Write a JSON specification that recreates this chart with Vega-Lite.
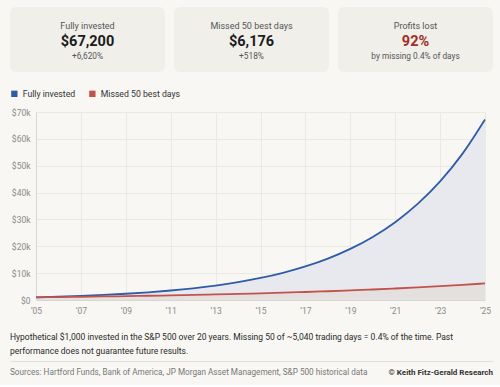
{
  "$schema": "https://vega.github.io/schema/vega-lite/v6.json",
  "background": "#f8f7f3",
  "padding": {"left": 10, "top": 7, "right": 7, "bottom": 0},
  "spacing": 17,
  "resolve": {"legend": {"color": "independent"}},
  "config": {"view": {"stroke": null}, "font": "Roboto"},
  "datasets": {
    "cards": [
      {"card": "Fully invested", "role": "label", "text": "Fully invested"},
      {"card": "Fully invested", "role": "value", "text": "$67,200"},
      {"card": "Fully invested", "role": "note", "text": "+6,620%"},
      {"card": "Missed 50 best days", "role": "label", "text": "Missed 50 best days"},
      {"card": "Missed 50 best days", "role": "value", "text": "$6,176"},
      {"card": "Missed 50 best days", "role": "note", "text": "+518%"},
      {"card": "Profits lost", "role": "label", "text": "Profits lost"},
      {"card": "Profits lost", "role": "value", "text": "92%"},
      {"card": "Profits lost", "role": "note", "text": "by missing 0.4% of days"}
    ],
    "growth": [
      {"year": 2005, "series": "Fully invested", "value": 1000},
      {"year": 2006, "series": "Fully invested", "value": 1234},
      {"year": 2007, "series": "Fully invested", "value": 1523},
      {"year": 2008, "series": "Fully invested", "value": 1880},
      {"year": 2009, "series": "Fully invested", "value": 2320},
      {"year": 2010, "series": "Fully invested", "value": 2864},
      {"year": 2011, "series": "Fully invested", "value": 3535},
      {"year": 2012, "series": "Fully invested", "value": 4362},
      {"year": 2013, "series": "Fully invested", "value": 5384},
      {"year": 2014, "series": "Fully invested", "value": 6645},
      {"year": 2015, "series": "Fully invested", "value": 8201},
      {"year": 2016, "series": "Fully invested", "value": 10122},
      {"year": 2017, "series": "Fully invested", "value": 12492},
      {"year": 2018, "series": "Fully invested", "value": 15418},
      {"year": 2019, "series": "Fully invested", "value": 19029},
      {"year": 2020, "series": "Fully invested", "value": 23485},
      {"year": 2021, "series": "Fully invested", "value": 28985},
      {"year": 2022, "series": "Fully invested", "value": 35773},
      {"year": 2023, "series": "Fully invested", "value": 44151},
      {"year": 2024, "series": "Fully invested", "value": 54491},
      {"year": 2025, "series": "Fully invested", "value": 67200},
      {"year": 2005, "series": "Missed 50 best days", "value": 1000},
      {"year": 2006, "series": "Missed 50 best days", "value": 1095},
      {"year": 2007, "series": "Missed 50 best days", "value": 1200},
      {"year": 2008, "series": "Missed 50 best days", "value": 1314},
      {"year": 2009, "series": "Missed 50 best days", "value": 1439},
      {"year": 2010, "series": "Missed 50 best days", "value": 1576},
      {"year": 2011, "series": "Missed 50 best days", "value": 1726},
      {"year": 2012, "series": "Missed 50 best days", "value": 1891},
      {"year": 2013, "series": "Missed 50 best days", "value": 2071},
      {"year": 2014, "series": "Missed 50 best days", "value": 2268},
      {"year": 2015, "series": "Missed 50 best days", "value": 2484},
      {"year": 2016, "series": "Missed 50 best days", "value": 2721},
      {"year": 2017, "series": "Missed 50 best days", "value": 2980},
      {"year": 2018, "series": "Missed 50 best days", "value": 3264},
      {"year": 2019, "series": "Missed 50 best days", "value": 3575},
      {"year": 2020, "series": "Missed 50 best days", "value": 3916},
      {"year": 2021, "series": "Missed 50 best days", "value": 4289},
      {"year": 2022, "series": "Missed 50 best days", "value": 4697},
      {"year": 2023, "series": "Missed 50 best days", "value": 5145},
      {"year": 2024, "series": "Missed 50 best days", "value": 5635},
      {"year": 2025, "series": "Missed 50 best days", "value": 6176}
    ],
    "footer": [
      {"part": "source", "text": "Sources: Hartford Funds, Bank of America, JP Morgan Asset Management, S&P 500 historical data"},
      {"part": "credit", "text": "© Keith Fitz-Gerald Research"}
    ]
  },
  "vconcat": [
    {
      "data": {"name": "cards"},
      "facet": {"column": {"field": "card", "type": "nominal", "sort": ["Fully invested", "Missed 50 best days", "Profits lost"], "header": null}},
      "spacing": 9,
      "spec": {
        "width": 155,
        "height": 65,
        "view": {"fill": "#f1efea", "cornerRadius": 6, "stroke": null},
        "encoding": {
          "y": {"field": "role", "type": "nominal", "sort": ["label", "value", "note"], "scale": {"type": "point", "padding": 1.03}, "axis": null}
        },
        "layer": [
          {"transform": [{"filter": "datum.role == 'label'"}], "mark": {"type": "text", "fontSize": 9, "color": "#555555", "dy": 2.5}, "encoding": {"text": {"field": "text"}}},
          {"transform": [{"filter": "datum.role == 'value'"}], "mark": {"type": "text", "fontSize": 14.5, "fontWeight": "bold", "dy": 2}, "encoding": {"text": {"field": "text"}, "color": {"condition": {"test": "datum.card == 'Profits lost'", "value": "#9e2e26"}, "value": "#1c1c1c"}}},
          {"transform": [{"filter": "datum.role == 'note'"}], "mark": {"type": "text", "fontSize": 8.3, "color": "#555555", "dy": 1}, "encoding": {"text": {"field": "text"}}}
        ]
      }
    },
    {
      "width": 475,
      "height": 188,
      "data": {"name": "growth"},
      "encoding": {
        "x": {"field": "year", "type": "quantitative", "scale": {"domain": [2005, 2025], "range": [26, 475], "nice": false, "zero": false},
              "axis": {"values": [2005, 2007, 2009, 2011, 2013, 2015, 2017, 2019, 2021, 2023, 2025], "labelExpr": "'’' + slice(toString(datum.value), 2)", "title": null, "ticks": false, "labelPadding": 6, "labelFontSize": 8.5, "labelColor": "#8a8a8a", "gridColor": "#ebe9e4", "domainColor": "#d8d6d1", "labelFlush": false}},
        "y": {"field": "value", "type": "quantitative", "scale": {"domain": [0, 70000], "nice": false},
              "axis": {"values": [0, 10000, 20000, 30000, 40000, 50000, 60000, 70000], "labelExpr": "datum.value == 0 ? '$0' : '$' + (datum.value / 1000) + 'k'", "title": null, "ticks": false, "offset": -26, "labelPadding": 6, "labelFontSize": 8.5, "labelColor": "#8a8a8a", "gridColor": "#ebe9e4", "domainColor": "#d8d6d1"}}
      },
      "layer": [
        {"transform": [{"filter": "datum.series == 'Fully invested'"}], "mark": {"type": "area", "interpolate": "monotone", "color": "#e8e9ee"}},
        {"transform": [{"filter": "datum.series == 'Missed 50 best days'"}], "mark": {"type": "area", "interpolate": "monotone", "color": "#e5e0e0"}},
        {"mark": {"type": "line", "interpolate": "monotone", "strokeWidth": 1.8},
         "encoding": {"color": {"field": "series", "type": "nominal", "scale": {"domain": ["Fully invested", "Missed 50 best days"], "range": ["#2e5ca8", "#c2524c"]},
           "legend": {"title": null, "orient": "top", "offset": 13, "direction": "horizontal", "symbolType": "square", "symbolSize": 40, "symbolStrokeWidth": 0, "labelFontSize": 8.7, "labelColor": "#333333", "columnPadding": 12, "labelOffset": 4,
             "encode": {"symbols": {"update": {"fill": {"scale": "color", "field": "value"}, "strokeWidth": {"value": 0}}}}}}}}
      ]
    },
    {
      "width": 483,
      "height": 24,
      "data": {"name": "footer"},
      "title": {"text": ["Hypothetical $1,000 invested in the S&P 500 over 20 years. Missing 50 of ~5,040 trading days = 0.4% of the time. Past", "performance does not guarantee future results."], "anchor": "start", "orient": "top", "frame": "group", "fontSize": 8.5, "fontWeight": "normal", "color": "#2a2a2a", "lineHeight": 14, "offset": 6},
      "encoding": {
        "x": {"field": "part", "type": "nominal", "sort": ["source", "credit"], "scale": {"type": "point", "padding": 0},
              "axis": {"orient": "top", "domain": true, "domainColor": "#e0ded9", "ticks": false, "labels": false, "title": null, "grid": false}}
      },
      "layer": [
        {"transform": [{"filter": "datum.part == 'source'"}], "mark": {"type": "text", "align": "left", "fontSize": 8.2, "color": "#777777"}, "encoding": {"text": {"field": "text"}}},
        {"transform": [{"filter": "datum.part == 'credit'"}], "mark": {"type": "text", "align": "right", "fontSize": 8, "fontWeight": "bold", "color": "#333333"}, "encoding": {"text": {"field": "text"}}}
      ]
    }
  ]
}
